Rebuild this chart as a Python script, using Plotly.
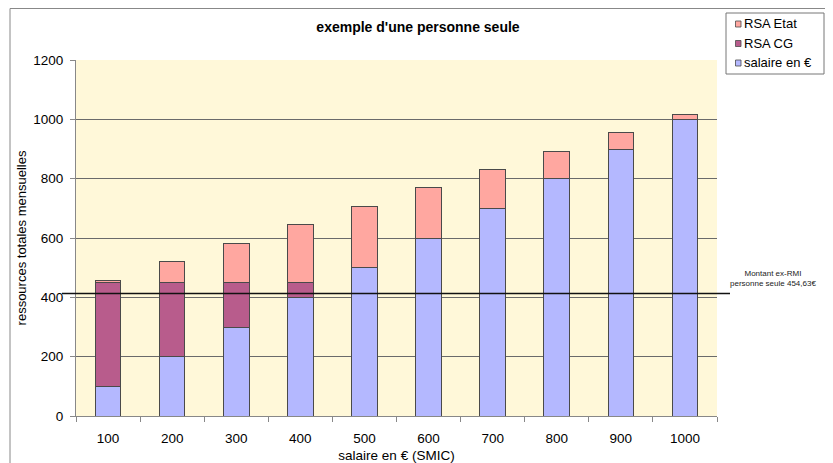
import plotly.graph_objects as go

# ---- data ----
categories = ["100", "200", "300", "400", "500", "600", "700", "800", "900", "1000"]
salaire = [100, 200, 300, 400, 500, 600, 700, 800, 900, 1000]
rsa_cg = [350, 250, 150, 50, 0, 0, 0, 0, 0, 0]
rsa_etat = [8, 71, 133, 195, 207, 169, 131, 93, 55, 17]
ex_rmi_level = 413
y_ticks = [0, 200, 400, 600, 800, 1000, 1200]

# ---- layout geometry (screen pixels; page body has an 8px margin) ----
OFF = 8
W, H = 833 - OFF, 463 - OFF
PL, PR, PT, PB = 76 - OFF, 717 - OFF, 60 - OFF, 416 - OFF


def px(x):
    return (x - OFF - PL) / (PR - PL)


def py(y):
    return (PB - (y - OFF)) / (PB - PT)


FONT = "Arial, Liberation Sans, sans-serif"
C_SAL = "#B4B8FF"
C_CG = "#B85C8C"
C_ETAT = "#FFA7A0"
EDGE = "#4a4a4a"

fig = go.Figure()
fig.add_trace(go.Bar(x=categories, y=salaire, name="salaire en €",
                     marker=dict(color=C_SAL, line=dict(color=EDGE, width=1)),
                     showlegend=False))
fig.add_trace(go.Bar(x=categories, y=rsa_cg, name="RSA CG",
                     marker=dict(color=C_CG, line=dict(color=EDGE, width=1)),
                     showlegend=False))
fig.add_trace(go.Bar(x=categories, y=rsa_etat, name="RSA Etat",
                     marker=dict(color=C_ETAT, line=dict(color=EDGE, width=1)),
                     showlegend=False))

shapes = []
annotations = []

# outer chart border
shapes.append(dict(type="rect", xref="paper", yref="paper",
                   x0=px(10), x1=px(827), y0=py(520), y1=py(8.5),
                   line=dict(color="#888888", width=1), fillcolor="rgba(0,0,0,0)",
                   layer="below"))

# ex-RMI reference line
shapes.append(dict(type="line", xref="paper", yref="y",
                   x0=px(62), x1=px(730), y0=ex_rmi_level, y1=ex_rmi_level,
                   line=dict(color="#111111", width=1.5)))
annotations.append(dict(xref="paper", yref="paper", x=px(773), y=py(278),
                        text="Montant ex-RMI<br>personne seule 454,63€",
                        showarrow=False, xanchor="center", yanchor="middle",
                        font=dict(family=FONT, size=8, color="#222222")))

# manual legend
shapes.append(dict(type="rect", xref="paper", yref="paper",
                   x0=px(726), x1=px(824), y0=py(74), y1=py(13),
                   line=dict(color="#777777", width=1), fillcolor="white"))
legend_items = [("RSA Etat", C_ETAT, 24), ("RSA CG", C_CG, 43.5), ("salaire en €", C_SAL, 63)]
for label, col, yc in legend_items:
    shapes.append(dict(type="rect", xref="paper", yref="paper",
                       x0=px(735.5), x1=px(741), y0=py(yc + 3), y1=py(yc - 3),
                       line=dict(color=EDGE, width=0.8), fillcolor=col))
    annotations.append(dict(xref="paper", yref="paper", x=px(742), y=py(yc),
                            text=label, showarrow=False, xanchor="left", yanchor="middle",
                            font=dict(family=FONT, size=13, color="black")))

fig.update_layout(
    width=W, height=H,
    margin=dict(l=PL, r=W - PR, t=PT, b=H - PB, autoexpand=False),
    paper_bgcolor="white",
    plot_bgcolor="#FFF8D9",
    barmode="stack",
    bargap=0.6,
    showlegend=False,
    title=dict(text="<b>exemple d'une personne seule</b>", x=(418 - OFF) / W, xref="container",
               xanchor="center", y=1 - (27 - OFF) / H, yref="container", yanchor="middle",
               font=dict(family=FONT, size=14, color="black")),
    font=dict(family=FONT, size=13.5, color="black"),
    shapes=shapes,
    annotations=annotations,
)

fig.update_xaxes(type="category", categoryorder="array", categoryarray=categories,
                 showline=True, linecolor="#888888", linewidth=1,
                 ticks="outside", tickson="boundaries", ticklen=5, tickcolor="#888888",
                 ticklabelstandoff=10,
                 showgrid=False,
                 tickfont=dict(family=FONT, size=13.5),
                 title=dict(text="salaire en € (SMIC)", standoff=5,
                            font=dict(family=FONT, size=13.5)))
fig.update_yaxes(range=[0, 1200], tickvals=y_ticks, ticktext=[str(v) for v in y_ticks],
                 showline=True, linecolor="#888888", linewidth=1,
                 ticks="outside", ticklen=5, tickcolor="#888888",
                 ticklabelstandoff=4,
                 showgrid=True, gridcolor="#6a6a6a", gridwidth=1,
                 zeroline=False,
                 tickfont=dict(family=FONT, size=13.5),
                 title=dict(text="ressources totales mensuelles", standoff=3,
                            font=dict(family=FONT, size=13)))

fig.write_html("out.html")
